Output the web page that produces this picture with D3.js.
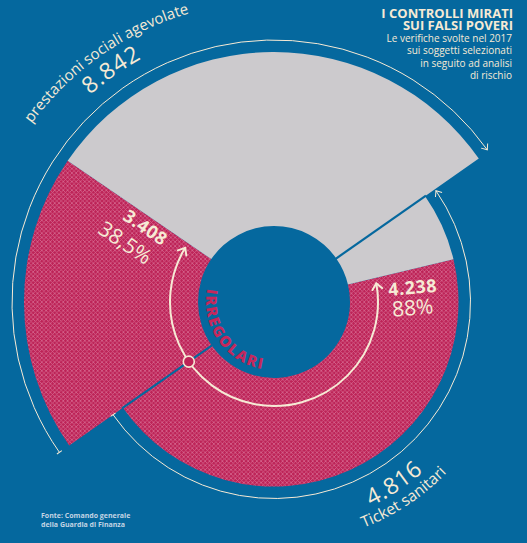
<!DOCTYPE html>
<html>
<head>
<meta charset="utf-8">
<title>controlli mirati</title>
<script src="https://cdn.jsdelivr.net/npm/d3@7"></script>
<style>
	body{ margin:0; background:#05689e; }
	text{ font-family:"Open Sans", sans-serif; fill:#f6ead5; }
	.title{ font-size:13px; font-weight:700; }
	.subtitle{ font-size:10px; }
	.source{ font-size:7px; font-weight:700; fill:#c3d4e4; }
</style>
</head>
<body>
<svg width="527" height="543"></svg>
<script>
// dati
var categories = ["prestazioni sociali agevolate", "Ticket sanitari"];
var totals = [8842, 4816];
var irregular = [3408, 4238];
var centerLabel = "IRREGOLARI";
var titleLines = ["I CONTROLLI MIRATI", "SUI FALSI POVERI"];
var subtitleLines = ["Le verifiche svolte nel 2017", "sui soggetti selezionati", "in seguito ad analisi ", "di rischio"];
var sourceLines = ["Fonte: Comando generale", "della Guardia di Finanza"];

var it = d3.formatLocale({decimal: ",", thousands: ".", grouping: [3], currency: ["€", ""]});
var fmtNum = it.format(",");
var fmtPct = function(v) { return it.format(".1f")(v * 100).replace(/,0$/, "") + "%"; };

var svg = d3.select("svg"),
	cx = 274, cy = 302,
	innerR = 76,
	deg = Math.PI / 180,
	split = -125 * deg,       // confine comune dei due settori
	dir = [1, -1],            // il primo gira in senso orario, il secondo al contrario
	blue = "#05689e", grey = "#cccacd", cream = "#f6ead5", red = "#bd2357";

var rScale = d3.scaleSqrt().domain([0, d3.max(totals)]).range([0, 250]);
var aScales = totals.map(function(t, i) {
	return d3.scaleLinear().domain([0, t]).range([split, split + dir[i] * Math.PI]);
});

function pt(a, r) { return [r * Math.sin(a), -r * Math.cos(a)]; }
function arcPath(r, a0, a1) {
	var p = d3.path();
	p.arc(0, 0, r, a0 - Math.PI / 2, a1 - Math.PI / 2, a1 < a0);
	return p.toString();
}

var defs = svg.append("defs");
var pat = defs.append("pattern").attr("id", "hatch").attr("patternUnits", "userSpaceOnUse")
	.attr("width", 4.3).attr("height", 4.3);
pat.append("rect").attr("width", 4.3).attr("height", 4.3).attr("fill", red);
pat.append("path").attr("d", "M0,0L4.3,4.3M4.3,0L0,4.3M-1,1L1,-1M3.3,5.3L5.3,3.3")
	.attr("stroke", "#d5658d").attr("stroke-width", 0.8);

// frecce
defs.append("marker").attr("id", "chev").attr("markerUnits", "userSpaceOnUse")
	.attr("viewBox", "-10 -10 20 20").attr("markerWidth", 20).attr("markerHeight", 20)
	.attr("orient", "auto-start-reverse")
	.append("path").attr("d", "M-6,-5L0,0L-6,5").attr("fill", "none")
	.attr("stroke", cream).attr("stroke-width", 2).attr("stroke-linecap", "round");
defs.append("marker").attr("id", "chevS").attr("markerUnits", "userSpaceOnUse")
	.attr("viewBox", "-10 -10 20 20").attr("markerWidth", 20).attr("markerHeight", 20)
	.attr("orient", "auto")
	.append("path").attr("d", "M-5,-4L0,0L-5,4").attr("fill", "none")
	.attr("stroke", cream).attr("stroke-width", 1);
defs.append("marker").attr("id", "bar").attr("markerUnits", "userSpaceOnUse")
	.attr("viewBox", "-10 -10 20 20").attr("markerWidth", 20).attr("markerHeight", 20)
	.attr("orient", "auto")
	.append("path").attr("d", "M0,-3L0,3").attr("stroke", cream).attr("stroke-width", 1);

var g = svg.append("g").attr("transform", "translate(" + cx + "," + cy + ")");
var arc = d3.arc().innerRadius(innerR);

// settori
categories.forEach(function(c, i) {
	var a = aScales[i], R = rScale(totals[i]);
	g.append("path").attr("fill", "url(#hatch)")
		.attr("d", arc({outerRadius: R, startAngle: a(0), endAngle: a(irregular[i])}));
	g.append("path").attr("fill", grey)
		.attr("d", arc({outerRadius: R, startAngle: a(irregular[i]), endAngle: a(totals[i])}));
});

// separatori, solo dove i due settori si toccano
[split, split + Math.PI].forEach(function(a) {
	var p0 = pt(a, innerR - 2), p1 = pt(a, rScale(d3.min(totals)) + 1);
	g.append("line").attr("x1", p0[0]).attr("y1", p0[1]).attr("x2", p1[0]).attr("y2", p1[1])
		.attr("stroke", blue).attr("stroke-width", 2.2);
});

// archi di riferimento esterni
categories.forEach(function(c, i) {
	var a = aScales[i];
	g.append("path").attr("fill", "none").attr("stroke", cream).attr("stroke-width", 1)
		.attr("d", arcPath(rScale(totals[i]) + 12, a(0), a(totals[i]) - dir[i] * 0.5 * deg))
		.attr("marker-start", "url(#bar)").attr("marker-end", "url(#chevS)");
});

// arco degli irregolari
var e1 = aScales[0](irregular[0]) - dir[0] * 3 * deg,
	e2 = aScales[1](irregular[1]) - dir[1] * 3 * deg;
g.append("path").attr("fill", "none").attr("stroke", cream).attr("stroke-width", 2)
	.attr("d", arcPath(104, e1, e2))
	.attr("marker-start", "url(#chev)").attr("marker-end", "url(#chev)");
var dot = pt(split, 104);
g.append("circle").attr("cx", dot[0]).attr("cy", dot[1]).attr("r", 5.5)
	.attr("fill", red).attr("stroke", cream).attr("stroke-width", 1.6);

defs.append("path").attr("id", "p-irr").attr("d", arcPath(68, split + 65 * deg, split - 65 * deg));
g.append("text").style("font-size", "15px").style("font-weight", 800).style("fill", "#c4285c")
	.attr("letter-spacing", 1.8)
	.append("textPath").attr("href", "#p-irr").attr("startOffset", "50%").attr("text-anchor", "middle")
	.text(centerLabel);

// etichette delle categorie, lungo la circonferenza
var labelRings = [
	{name: 301, value: 277, shift: 0, size: [15, 23]},
	{name: 243, value: 226, shift: 1.5, size: [15.5, 23]}
];
categories.forEach(function(c, i) {
	var mid = aScales[i](totals[i] / 2) + labelRings[i].shift * deg,
		L = labelRings[i],
		from = mid - dir[i] * 50 * deg, to = mid + dir[i] * 50 * deg;
	defs.append("path").attr("id", "pn" + i).attr("d", arcPath(L.name, from, to));
	defs.append("path").attr("id", "pv" + i).attr("d", arcPath(L.value, from, to));
	g.append("text").style("font-size", L.size[0] + "px")
		.append("textPath").attr("href", "#pn" + i).attr("startOffset", "50%").attr("text-anchor", "middle")
		.text(c);
	g.append("text").style("font-size", L.size[1] + "px").attr("letter-spacing", 1)
		.append("textPath").attr("href", "#pv" + i).attr("startOffset", "50%").attr("text-anchor", "middle")
		.text(fmtNum(totals[i]));
});

// valori degli irregolari
var valLabels = [
	{off: 8, r: 125, rot: function(a) { return a / deg + 90; }, anchor: "end", dx: -3, dy: 25},
	{off: 10.4, r: 115, rot: function() { return -5; }, anchor: "start", dx: 2, dy: 21}
];
categories.forEach(function(c, i) {
	var a = aScales[i](irregular[i]), V = valLabels[i],
		p = pt(a - dir[i] * V.off * deg, V.r);
	var vg = g.append("g").attr("transform", "translate(" + p[0] + "," + p[1] + ") rotate(" + V.rot(a) + ")");
	vg.append("text").attr("text-anchor", V.anchor).style("font-size", "18px").style("font-weight", 700)
		.attr("letter-spacing", 0.5).text(fmtNum(irregular[i]));
	vg.append("text").attr("text-anchor", V.anchor).attr("x", V.dx).attr("y", V.dy)
		.style("font-size", "21px").text(fmtPct(irregular[i] / totals[i]));
});

// titolo
svg.append("g").selectAll("text").data(titleLines).enter().append("text")
	.attr("class", "title").attr("text-anchor", "end")
	.attr("x", 513).attr("y", function(d, i) { return 17.5 + i * 12.2; }).text(function(d) { return d; });
svg.append("g").selectAll("text").data(subtitleLines).enter().append("text")
	.attr("class", "subtitle").attr("text-anchor", "end")
	.attr("x", 512).attr("y", function(d, i) { return 42 + i * 12.3; }).text(function(d) { return d; });
svg.append("g").selectAll("text").data(sourceLines).enter().append("text")
	.attr("class", "source")
	.attr("x", 41).attr("y", function(d, i) { return 518 + i * 8.5; }).text(function(d) { return d; });
</script>
</body>
</html>
